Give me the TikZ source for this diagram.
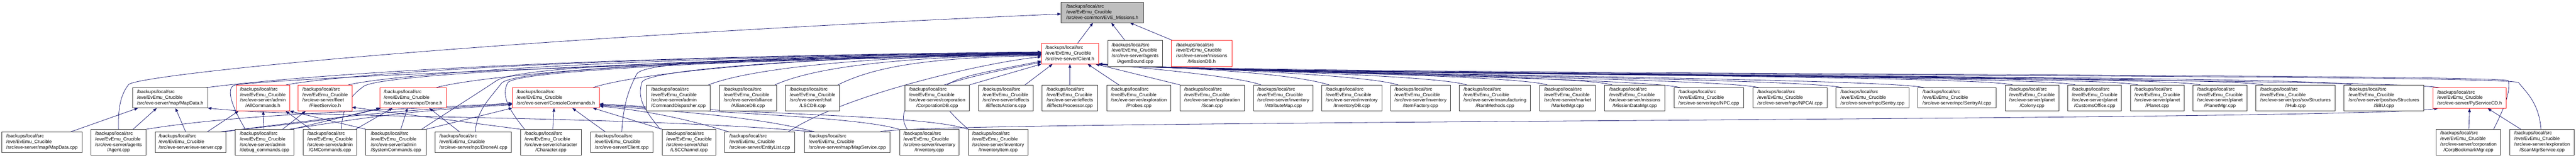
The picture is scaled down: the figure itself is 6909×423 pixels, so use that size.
\documentclass[tikz,border=0pt]{standalone}
\usepackage{fontspec}
\setmainfont{Liberation Sans}
\usetikzlibrary{arrows.meta,backgrounds}
\definecolor{edgeblue}{HTML}{191970}
\definecolor{boxred}{HTML}{FF2020}
\definecolor{boxgrey}{HTML}{333333}
\definecolor{rootfill}{HTML}{BFBFBF}
\newcommand\labthree[1]{\begin{tabular}{@{}l@{}}/backups/local/src\\/eve/EvEmu\_Crucible\\#1\end{tabular}}
\newcommand\labfour[2]{\begin{tabular}{@{}l@{}}/backups/local/src\\/eve/EvEmu\_Crucible\\#1\\\multicolumn{1}{@{}c@{}}{#2}\end{tabular}}
\newcommand\nodebox[7]{\node[#2, minimum width={(#4-#3)*1bp}, minimum height={(#6-#5)*1bp}] (#1) at ({(#3+#4)/2},{(#5+#6)/2}) {#7};}
\tikzset{
 filebox/.style={draw=boxgrey, line width=1.3bp, fill=white, inner sep=0pt, outer sep=0pt, font=\fontsize{12.7bp}{15bp}\selectfont},
 redbox/.style={filebox, draw=boxred},
 rootbox/.style={filebox, fill=rootfill},
 edge/.style={draw=edgeblue, line width=1.1bp, -{Triangle[length=10bp,width=7.5bp]}},
}
\renewcommand\arraystretch{1}
\begin{document}
\begin{tikzpicture}[x=1bp,y=-1bp]
\useasboundingbox (0,0) rectangle (6909,423);
% root
\nodebox{root}{rootbox}{2846}{3067}{6}{61}{\labthree{/src/eve-common/EVE\_Missions.h}}
% layer 1
\nodebox{clienth}{redbox}{2793}{2946}{117}{172}{\labthree{/src/eve-server/Client.h}}
\nodebox{agentbound}{filebox}{2971}{3118}{109}{179}{\labfour{/src/eve-server/agents}{/AgentBound.cpp}}
\nodebox{missiondb}{redbox}{3142}{3304}{109}{179}{\labfour{/src/eve-server/missions}{/MissionDB.h}}
% layer 2
\nodebox{mapdatah}{filebox}{356}{557}{236}{290}{\labthree{/src/eve-server/map/MapData.h}}
\nodebox{allcmdh}{redbox}{633}{777}{228}{298}{\labfour{/src/eve-server/admin}{/AllCommands.h}}
\nodebox{fleeth}{redbox}{800}{944}{228}{298}{\labfour{/src/eve-server/fleet}{/FleetService.h}}
\nodebox{droneh}{redbox}{1019}{1197}{236}{290}{\labthree{/src/eve-server/npc/Drone.h}}
\nodebox{consoleh}{redbox}{1374}{1608}{236}{290}{\labthree{/src/eve-server/ConsoleCommands.h}}
\nodebox{cmddisp}{filebox}{1734}{1905}{228}{298}{\labfour{/src/eve-server/admin}{/CommandDispatcher.cpp}}
\nodebox{alliancedb}{filebox}{1930}{2083}{228}{298}{\labfour{/src/eve-server/alliance}{/AllianceDB.cpp}}
\nodebox{lscdb}{filebox}{2107}{2252}{228}{298}{\labfour{/src/eve-server/chat}{/LSCDB.cpp}}
\nodebox{corpdb}{filebox}{2427}{2600}{228}{298}{\labfour{/src/eve-server/corporation}{/CorporationDB.cpp}}
\nodebox{effact}{filebox}{2625}{2771}{228}{298}{\labfour{/src/eve-server/effects}{/EffectsActions.cpp}}
\nodebox{effproc}{filebox}{2795}{2944}{228}{298}{\labfour{/src/eve-server/effects}{/EffectsProcessor.cpp}}
\nodebox{probes}{filebox}{2969}{3140}{228}{298}{\labfour{/src/eve-server/exploration}{/Probes.cpp}}
\nodebox{scan}{filebox}{3165}{3337}{228}{298}{\labfour{/src/eve-server/exploration}{/Scan.cpp}}
\nodebox{attrmap}{filebox}{3362}{3522}{228}{298}{\labfour{/src/eve-server/inventory}{/AttributeMap.cpp}}
\nodebox{invdb}{filebox}{3545}{3706}{228}{298}{\labfour{/src/eve-server/inventory}{/InventoryDB.cpp}}
\nodebox{itemfac}{filebox}{3730}{3890}{228}{298}{\labfour{/src/eve-server/inventory}{/ItemFactory.cpp}}
\nodebox{ram}{filebox}{3914}{4105}{228}{298}{\labfour{/src/eve-server/manufacturing}{/RamMethods.cpp}}
\nodebox{market}{filebox}{4130}{4279}{228}{298}{\labfour{/src/eve-server/market}{/MarketMgr.cpp}}
\nodebox{missdm}{filebox}{4304}{4465}{228}{298}{\labfour{/src/eve-server/missions}{/MissionDataMgr.cpp}}
\nodebox{npc}{filebox}{4490}{4676}{236}{290}{\labthree{/src/eve-server/npc/NPC.cpp}}
\nodebox{npcai}{filebox}{4701}{4900}{236}{290}{\labthree{/src/eve-server/npc/NPCAI.cpp}}
\nodebox{sentry}{filebox}{4924}{5120}{236}{290}{\labthree{/src/eve-server/npc/Sentry.cpp}}
\nodebox{sentryai}{filebox}{5144}{5353}{236}{290}{\labthree{/src/eve-server/npc/SentryAI.cpp}}
\nodebox{colony}{filebox}{5378}{5522}{228}{298}{\labfour{/src/eve-server/planet}{/Colony.cpp}}
\nodebox{customs}{filebox}{5546}{5690}{228}{298}{\labfour{/src/eve-server/planet}{/CustomsOffice.cpp}}
\nodebox{planet}{filebox}{5714}{5858}{228}{298}{\labfour{/src/eve-server/planet}{/Planet.cpp}}
\nodebox{planetmgr}{filebox}{5882}{6026}{228}{298}{\labfour{/src/eve-server/planet}{/PlanetMgr.cpp}}
\nodebox{ihub}{filebox}{6050}{6263}{228}{298}{\labfour{/src/eve-server/pos/sovStructures}{/IHub.cpp}}
\nodebox{sbu}{filebox}{6287}{6501}{228}{298}{\labfour{/src/eve-server/pos/sovStructures}{/SBU.cpp}}
\nodebox{pyscd}{redbox}{6526}{6721}{236}{291}{\labthree{/src/eve-server/PyServiceCD.h}}
% layer 3
\nodebox{mapdatacpp}{filebox}{5}{220}{354}{409}{\labthree{/src/eve-server/map/MapData.cpp}}
\nodebox{agentcpp}{filebox}{244}{392}{347}{417}{\labfour{/src/eve-server/agents}{/Agent.cpp}}
\nodebox{evesrv}{filebox}{416}{606}{354}{409}{\labthree{/src/eve-server/eve-server.cpp}}
\nodebox{debugcmd}{filebox}{631}{788}{347}{417}{\labfour{/src/eve-server/admin}{/debug\_commands.cpp}}
\nodebox{gmcmd}{filebox}{813}{957}{347}{417}{\labfour{/src/eve-server/admin}{/GMCommands.cpp}}
\nodebox{syscmd}{filebox}{981}{1143}{347}{417}{\labfour{/src/eve-server/admin}{/SystemCommands.cpp}}
\nodebox{droneai}{filebox}{1167}{1372}{354}{409}{\labthree{/src/eve-server/npc/DroneAI.cpp}}
\nodebox{charcpp}{filebox}{1396}{1559}{347}{417}{\labfour{/src/eve-server/character}{/Character.cpp}}
\nodebox{clientcpp}{filebox}{1584}{1751}{354}{410}{\labthree{/src/eve-server/Client.cpp}}
\nodebox{lscchan}{filebox}{1776}{1920}{347}{417}{\labfour{/src/eve-server/chat}{/LSCChannel.cpp}}
\nodebox{entlist}{filebox}{1943}{2132}{354}{410}{\labthree{/src/eve-server/EntityList.cpp}}
\nodebox{mapsvc}{filebox}{2158}{2387}{354}{410}{\labthree{/src/eve-server/map/MapService.cpp}}
\nodebox{inventory}{filebox}{2413}{2572}{347}{417}{\labfour{/src/eve-server/inventory}{/Inventory.cpp}}
\nodebox{invitem}{filebox}{2597}{2757}{347}{417}{\labfour{/src/eve-server/inventory}{/InventoryItem.cpp}}
\nodebox{corpbm}{filebox}{6534}{6707}{347}{416}{\labfour{/src/eve-server/corporation}{/CorpBookmarkMgr.cpp}}
\nodebox{scanmgr}{filebox}{6732}{6904}{347}{416}{\labfour{/src/eve-server/exploration}{/ScanMgrService.cpp}}
\begin{pgfonlayer}{background}
% to root
\draw[edge] ([xshift=20bp]clienth.north) -- ([xshift=-25bp]root.south);
\draw[edge] ([xshift=-27bp]agentbound.north) -- ([xshift=24bp]root.south);
\draw[edge] ([xshift=4bp]missiondb.north west) -- ([xshift=74bp]root.south);
\draw[edge] (agentcpp.north) .. controls +(-2,-60) and +(-20,25) .. ++(27,-120) .. controls +(20,-25) and +(-1600,70) .. ([yshift=-4bp]root.west);
% left side into Client.h
\draw[edge] ([xshift=-10bp]mapdatah.north east) .. controls +(150,-20) and +(-1500,15) .. ([yshift=5bp]clienth.west);
\draw[edge] ([xshift=-10bp]allcmdh.north east) .. controls +(100,-20) and +(-1400,14) .. ([yshift=4bp]clienth.west);
\draw[edge] ([xshift=-10bp]fleeth.north east) .. controls +(100,-25) and +(-1200,12) .. ([yshift=3bp]clienth.west);
\draw[edge] ([xshift=-30bp]droneh.north east) .. controls +(100,-30) and +(-1000,10) .. ([yshift=2bp]clienth.west);
\draw[edge] ([xshift=-20bp]consoleh.north east) .. controls +(100,-35) and +(-700,8) .. ([yshift=1bp]clienth.west);
\draw[edge] ([xshift=-5bp]cmddisp.north east) .. controls +(100,-40) and +(-500,5) .. ([yshift=-1bp]clienth.west);
\draw[edge] ([xshift=-5bp]alliancedb.north east) .. controls +(100,-45) and +(-400,5) .. ([yshift=-3bp]clienth.west);
\draw[edge] ([xshift=-5bp]lscdb.north east) .. controls +(100,-50) and +(-300,5) .. ([yshift=-5bp]clienth.west);
\draw[edge] ([xshift=27bp]debugcmd.north west) .. controls +(-30,-50) and +(-25,10) .. ++(-30,-118) .. controls +(25,-10) and +(-1400,30) .. ([yshift=-2bp]clienth.west);
\draw[edge] ([xshift=30bp]gmcmd.north) .. controls +(5,-60) and +(-40,30) .. ++(60,-115) .. controls +(40,-30) and +(-1200,20) .. ([yshift=-1bp]clienth.west);
\draw[edge] ([xshift=-12bp]syscmd.north east) .. controls +(60,-40) and +(-60,40) .. ++(200,-130) .. controls +(60,-40) and +(-900,15) .. (clienth.west);
\draw[edge] ([xshift=5bp]droneai.north) .. controls +(5,-60) and +(-30,40) .. ++(70,-130) .. controls +(30,-40) and +(-800,15) .. ([yshift=1bp]clienth.west);
\draw[edge] ([xshift=11bp]charcpp.north west) .. controls +(-40,-50) and +(-20,35) .. ++(-45,-125) .. controls +(20,-35) and +(-700,15) .. ([yshift=2bp]clienth.west);
\draw[edge] (clientcpp.north) .. controls +(5,-80) and +(-20,40) .. ++(40,-155) .. controls +(20,-40) and +(-600,10) .. ([yshift=3bp]clienth.west);
\draw[edge] ([xshift=-5bp]lscchan.north west) .. controls +(-50,-60) and +(-10,40) .. ++(-50,-125) .. controls +(10,-40) and +(-500,10) .. ([yshift=4bp]clienth.west);
\draw[edge] ([xshift=-18bp]entlist.north east) .. controls +(150,-100) and +(-150,15) .. ([yshift=-8bp]clienth.west);
\draw[edge] ([xshift=20bp]inventory.north west) .. controls +(-60,-100) and +(-200,40) .. ([yshift=5bp]clienth.south west);
\draw[edge] (invitem.north west) .. controls +(-150,-130) and +(-250,50) .. ([yshift=8bp]clienth.south west);
% near nodes into Client.h
\draw[edge] (corpdb.north east) -- (clienth.south west);
\draw[edge] ([xshift=-22bp]effact.north east) -- ([xshift=30bp]clienth.south west);
\draw[edge] (effproc.north) -- (clienth.south);
\draw[edge] ([xshift=32bp]probes.north west) -- ([xshift=-29bp]clienth.south east);
\draw[edge] (scan.north west) -- ([xshift=-8bp]clienth.south east);
% right side into Client.h
\draw[edge] ([xshift=20bp]attrmap.north west) .. controls +(-50,-20) and +(150,12) .. (clienth.south east);
\draw[edge] ([xshift=20bp]invdb.north west) .. controls +(-90,-28) and +(300,12) .. (clienth.south east);
\draw[edge] ([xshift=20bp]itemfac.north west) .. controls +(-90,-28) and +(300,14) .. (clienth.south east);
\draw[edge] ([xshift=20bp]ram.north west) .. controls +(-90,-28) and +(300,16) .. (clienth.south east);
\draw[edge] ([xshift=20bp]market.north west) .. controls +(-90,-28) and +(300,18) .. (clienth.south east);
\draw[edge] ([xshift=20bp]missdm.north west) .. controls +(-90,-28) and +(300,20) .. (clienth.south east);
\draw[edge] ([xshift=20bp]npc.north west) .. controls +(-90,-28) and +(300,22) .. (clienth.south east);
\draw[edge] ([xshift=20bp]npcai.north west) .. controls +(-90,-28) and +(300,23) .. (clienth.south east);
\draw[edge] ([xshift=20bp]sentry.north west) .. controls +(-90,-28) and +(300,24) .. (clienth.south east);
\draw[edge] ([xshift=20bp]sentryai.north west) .. controls +(-90,-28) and +(300,25) .. (clienth.south east);
\draw[edge] ([xshift=20bp]colony.north west) .. controls +(-90,-28) and +(300,26) .. (clienth.south east);
\draw[edge] ([xshift=20bp]customs.north west) .. controls +(-90,-28) and +(300,27) .. (clienth.south east);
\draw[edge] ([xshift=20bp]planet.north west) .. controls +(-90,-28) and +(300,28) .. (clienth.south east);
\draw[edge] ([xshift=20bp]planetmgr.north west) .. controls +(-90,-28) and +(300,29) .. (clienth.south east);
\draw[edge] ([xshift=20bp]ihub.north west) .. controls +(-90,-28) and +(300,30) .. (clienth.south east);
\draw[edge] ([xshift=20bp]sbu.north west) .. controls +(-90,-28) and +(300,31) .. (clienth.south east);
\draw[edge] ([xshift=20bp]pyscd.north west) .. controls +(-90,-28) and +(300,32) .. (clienth.south east);
\draw[edge] ([xshift=-19bp]corpbm.north east) .. controls +(30,-60) and +(5,30) .. ++(40,-130) .. controls +(-5,-20) and +(400,30) .. (clienth.south east);
\draw[edge] ([xshift=83bp]scanmgr.north west) .. controls +(-5,-70) and +(20,25) .. ++(-60,-125) .. controls +(-20,-25) and +(400,34) .. (clienth.south east);
% MapData.h
\draw[edge] ([xshift=77bp]mapdatacpp.north) -- ([xshift=-86bp]mapdatah.south);
\draw[edge] ([xshift=39bp]agentcpp.north) -- ([xshift=-36bp]mapdatah.south);
\draw[edge] ([xshift=-13bp]evesrv.north) -- ([xshift=14bp]mapdatah.south);
\draw[edge] ([xshift=25bp]mapsvc.north west) .. controls +(-500,-45) and +(250,28) .. (mapdatah.south east);
% AllCommands.h
\draw[edge] ([xshift=45bp]evesrv.north) -- ([xshift=-65bp]allcmdh.south);
\draw[edge] ([xshift=-2bp]debugcmd.north) -- ([xshift=1bp]allcmdh.south);
\draw[edge] ([xshift=20bp]gmcmd.north west) -- ([xshift=-11bp]allcmdh.south east);
\draw[edge] (syscmd.north west) -- (allcmdh.south east);
% FleetService.h
\draw[edge] ([xshift=-30bp]debugcmd.north east) -- ([xshift=20bp]fleeth.south west);
\draw[edge] (charcpp.north west) -- ([yshift=10bp]fleeth.south east);
% Drone.h
\draw[edge] ([xshift=-5bp]debugcmd.north east) -- ([xshift=3bp]droneh.south west);
\draw[edge] ([xshift=-8bp]evesrv.north east) .. controls +(200,-25) and +(-120,35) .. (droneh.south west);
\draw[edge] ([xshift=-3bp]gmcmd.north east) -- ([xshift=-55bp]droneh.south);
\draw[edge] ([xshift=13bp]syscmd.north) -- ([xshift=-15bp]droneh.south);
\draw[edge] ([xshift=-37bp]droneai.north) -- ([xshift=43bp]droneh.south);
% ConsoleCommands.h
\draw[edge] (agentcpp.north east) .. controls +(250,-40) and +(-450,25) .. ([yshift=-14bp]consoleh.west);
\draw[edge] ([xshift=-15bp]evesrv.north east) .. controls +(250,-30) and +(-400,22) .. ([yshift=-16bp]consoleh.west);
\draw[edge] ([xshift=-12bp]debugcmd.north east) .. controls +(200,-30) and +(-300,18) .. ([yshift=-18bp]consoleh.west);
\draw[edge] (syscmd.north east) -- (consoleh.south west);
\draw[edge] ([xshift=5bp]charcpp.north) -- ([xshift=-5bp]consoleh.south);
\draw[edge] ([xshift=-44bp]clientcpp.north) -- ([xshift=44bp]consoleh.south);
\draw[edge] (lscchan.north west) -- ([xshift=-18bp]consoleh.south east);
\draw[edge] ([xshift=12bp]entlist.north west) .. controls +(-100,-30) and +(150,15) .. ([yshift=-22bp]consoleh.east);
\draw[edge] ([xshift=27bp]mapsvc.north west) .. controls +(-150,-40) and +(200,15) .. ([yshift=-20bp]consoleh.east);
\draw[edge] ([xshift=-2bp]inventory.north west) .. controls +(-100,-30) and +(400,25) .. ([yshift=-18bp]consoleh.east);
\draw[edge] ([xshift=-2bp]invitem.north west) .. controls +(-100,-35) and +(500,30) .. ([yshift=-16bp]consoleh.east);
% PyServiceCD.h
\draw[edge] ([xshift=-27bp]mapsvc.north east) .. controls +(100,-32) and +(-239,34) .. ([xshift=13bp]pyscd.south west);
\draw[edge] ([xshift=1bp]corpbm.north) -- (pyscd.south);
\draw[edge] ([xshift=29bp]scanmgr.north west) -- ([xshift=-49bp]pyscd.south east);
\end{pgfonlayer}
\end{tikzpicture}
\end{document}
